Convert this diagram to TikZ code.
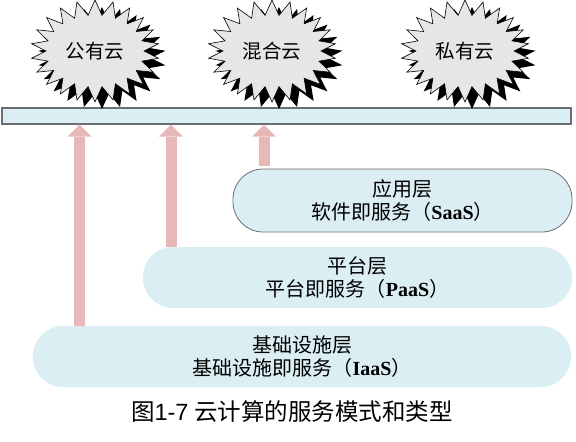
\documentclass[tikz,border=0pt]{standalone}
\usepackage{fontspec}
\setmainfont{Liberation Serif}
\newfontfamily\cjk{Noto Sans CJK SC}
\newfontfamily\capsans{Liberation Sans}
\usetikzlibrary{shapes.symbols,shadows,arrows.meta}
\definecolor{boxblue}{HTML}{DAEEF3}
\definecolor{arrowpink}{HTML}{E6B9B8}
\definecolor{cloudgray}{HTML}{E6E6E6}
\definecolor{edgegray}{HTML}{6E6E6E}
\tikzset{
  burst/.style={shape=starburst, starburst points=22, starburst point height=15pt,
    random starburst=0,
    minimum width=128pt, minimum height=102pt, fill=cloudgray, draw=black, line width=0.6pt,
    font=\cjk\fontsize{19.5}{22}\selectfont,
    drop shadow={shadow xshift=7pt, shadow yshift=-7pt, fill=black, opacity=1}},
  layerbox/.style={rounded corners=30pt, fill=boxblue, align=center,
    font=\fontsize{20}{23}\selectfont, inner sep=0pt},
  uparrow/.style={draw=arrowpink, line width=11pt,
    -{Triangle[width=24pt,length=12pt,line width=0pt]}},
}
\begin{document}
\begin{tikzpicture}[x=1pt,y=-1pt]
\useasboundingbox (0,0) rectangle (576,442);
% bar
\node[draw=edgegray, line width=1.2pt, fill=boxblue, minimum width=569pt, minimum height=16pt, inner sep=0pt] (bar) at (286.5,116) {};
% clouds
\node[burst] (pub) at (95,51) {公有云};
\node[burst] (hyb) at (272,51) {混合云};
\node[burst] (pri) at (465,51) {私有云};
% layers
\node[layerbox, draw=edgegray, line width=0.8pt, minimum width=339pt, minimum height=63pt] (saas) at (402.5,200.5)
  {{\cjk 应用层}\\{\cjk 软件即服务（}\textbf{SaaS}{\cjk ）}};
\node[layerbox, minimum width=429pt, minimum height=61pt] (paas) at (357.5,277.5)
  {{\cjk 平台层}\\{\cjk 平台即服务（}\textbf{PaaS}{\cjk ）}};
\node[layerbox, minimum width=538pt, minimum height=61pt] (iaas) at (302,356.5)
  {{\cjk 基础设施层}\\{\cjk 基础设施即服务（}\textbf{IaaS}{\cjk ）}};
% arrows
\coordinate (a1) at (79.5,0);
\coordinate (a2) at (171,0);
\coordinate (a3) at (264,0);
\draw[uparrow] (iaas.north -| a1) -- (bar.south -| a1);
\draw[uparrow] (paas.north -| a2) -- (bar.south -| a2);
\draw[uparrow] ([yshift=3pt]saas.north -| a3) -- (bar.south -| a3);
% caption
\node[font=\fontsize{23.5}{26}\selectfont, inner sep=0pt] (cap) at (292,412)
  {{\cjk 图}{\capsans 1-7} {\cjk 云计算的服务模式和类型}};
\end{tikzpicture}
\end{document}
